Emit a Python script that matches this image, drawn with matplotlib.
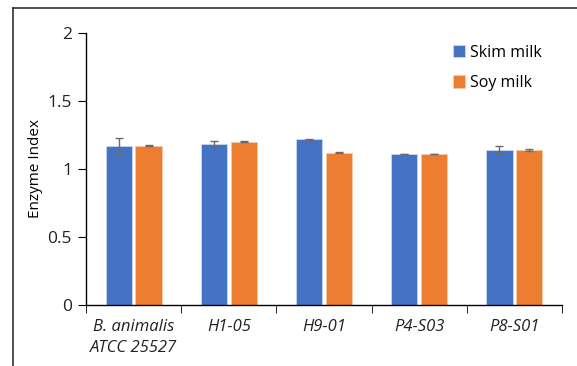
import matplotlib.pyplot as plt
import numpy as np
from matplotlib.lines import Line2D

# data
strains = ['B. animalis\nATCC 25527', 'H1-05', 'H9-01', 'P4-S03', 'P8-S01']
skim = [1.17, 1.185, 1.22, 1.11, 1.14]
skim_err = [0.06, 0.02, 0.004, 0.003, 0.03]
soy = [1.17, 1.20, 1.12, 1.11, 1.14]
soy_err = [0.003, 0.004, 0.003, 0.003, 0.005]

plt.rcParams['font.family'] = ['Open Sans', 'DejaVu Sans']

fig = plt.figure(figsize=(5.77, 3.66), dpi=100)
ax = fig.add_axes([86/577, 1-305/366, (562-86)/577, (305-33)/366])

x = np.arange(len(strains))
w = 0.275
off = 0.157
errkw = dict(ecolor='#6b6b6b', capsize=3, elinewidth=1, capthick=1)
ax.bar(x - off, skim, w, yerr=skim_err, color='#4472C4', edgecolor='#c9d6ef',
       linewidth=0.6, label='Skim milk', error_kw=errkw)
ax.bar(x + off, soy, w, yerr=soy_err, color='#ED7D31', edgecolor='#f7c9a8',
       linewidth=0.6, label='Soy milk', error_kw=errkw)

ax.set_xlim(-0.5, len(strains) - 0.5)
ax.set_ylim(0, 2)
ax.set_yticks([0, 0.5, 1, 1.5, 2])
ax.set_yticklabels(['0', '0.5', '1', '1.5', '2'], fontsize=12.5, color='#222222')
ax.set_xticks(x)
ax.set_xticklabels(strains, fontsize=12, style='italic', color='#222222',
                   linespacing=1.4)
ax.set_xticks(np.arange(len(strains) + 1) - 0.5, minor=True)
ax.tick_params(axis='x', which='major', length=0, pad=10)
ax.tick_params(axis='x', which='minor', length=6, direction='out', color='black')
ax.tick_params(axis='y', length=6, direction='out', pad=4, color='black')
ax.set_ylabel('Enzyme Index', fontsize=11, labelpad=3)
for s in ['top', 'right']:
    ax.spines[s].set_visible(False)
ax.spines['left'].set_linewidth(1)
ax.spines['bottom'].set_linewidth(1)

ax.legend(loc='upper left', bbox_to_anchor=(0.74, 1.01), frameon=False,
          fontsize=11.5, handlelength=0.8, handleheight=0.8, handletextpad=0.3,
          labelspacing=0.9)

# outer frame of the cropped figure
fig.add_artist(Line2D([13/577, 1], [1-8/366, 1-8/366], color='#333333', lw=1.2))
fig.add_artist(Line2D([13/577, 13/577], [0, 1-8/366], color='#333333', lw=1.2))

fig.savefig('out.png', dpi=100)
